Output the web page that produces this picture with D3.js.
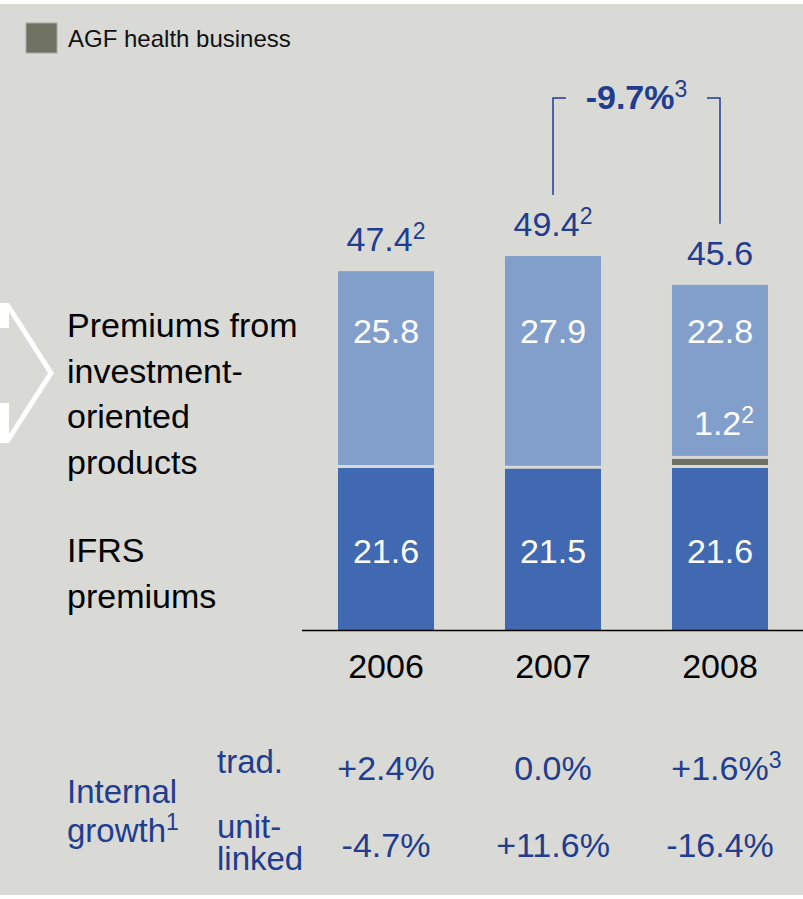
<!DOCTYPE html>
<html>
<head>
<meta charset="utf-8">
<script src="https://cdn.jsdelivr.net/npm/d3@7"></script>
<style>
  html, body { margin: 0; padding: 0; background: #ffffff; }
  svg { display: block; font-family: "Liberation Sans", Arial, sans-serif; }
</style>
</head>
<body>
<div id="chart"></div>
<script>
const years = ['2006', '2007', '2008'];
const ifrsPremiums = [21.6, 21.5, 21.6];
const agfHealth = [0, 0, 1.2];
const investmentPremiums = [25.8, 27.9, 22.8];
const totalNotes = ['2', '2', ''];
const agfNotes = ['', '', '2'];
const tradGrowth = ['+2.4%', '0.0%', '+1.6%'];
const tradNotes = ['', '', '3'];
const unitLinkedGrowth = ['-4.7%', '+11.6%', '-16.4%'];
const changeLabel = '-9.7%';
const changeNote = '3';

const width = 803;
const height = 899;
const baseline = 630;

const bg = '#d9d9d5';
const darkBlue = '#4169b1';
const lightBlue = '#829ecb';
const agfColor = '#6f7262';
const textBlue = '#203d8f';

const rows = years.map((y, i) => ({
    year: y,
    ifrs: ifrsPremiums[i],
    agf: agfHealth[i],
    investment: investmentPremiums[i],
    total: ifrsPremiums[i] + agfHealth[i] + investmentPremiums[i]
}));

const x = d3.scaleBand()
    .domain(years)
    .range([302.5, 803.5])
    .paddingInner(0.425)
    .paddingOuter(0.2125);

const y = d3.scaleLinear()
    .domain([0, 50])
    .range([baseline, baseline - 378.5]);

const svg = d3.select('#chart')
    .append('svg')
    .attr('width', width)
    .attr('height', height);

// background
svg.append('rect')
    .attr('x', 0).attr('y', 4)
    .attr('width', width).attr('height', height - 8)
    .attr('fill', bg);

// white arrow outline on the left
svg.append('polygon')
    .attr('points', '0,303 9,303 54,373 9,443 0,443')
    .attr('fill', '#ffffff');
svg.append('polygon')
    .attr('points', '0,328 9,328 9,312 48,373 9,434 9,403 0,403')
    .attr('fill', bg);

// legend
svg.append('rect')
    .attr('x', 26).attr('y', 23)
    .attr('width', 31).attr('height', 30)
    .attr('fill', agfColor)
    .attr('stroke', '#a9aa9e')
    .attr('stroke-width', 1);
svg.append('text')
    .attr('x', 68).attr('y', 47)
    .attr('font-size', 24)
    .attr('fill', '#111')
    .text('AGF health business');

// stacked bars
const keys = ['ifrs', 'agf', 'investment'];
const colors = { ifrs: darkBlue, agf: agfColor, investment: lightBlue };
const stacked = d3.stack().keys(keys)(rows);

stacked.forEach((layer, li) => {
    svg.append('g')
        .selectAll('rect')
        .data(layer.filter(d => d[1] - d[0] > 0))
        .join('rect')
        .attr('x', d => x(d.data.year))
        .attr('width', x.bandwidth())
        .attr('y', d => y(d[1]) + (li === keys.length - 1 ? 0 : 1.5))
        .attr('height', d => (y(d[0]) - y(d[1])) - (li === 0 ? 1.5 : 3) + (li === keys.length - 1 ? 1.5 : 0))
        .attr('fill', colors[layer.key]);
});

// axis line
svg.append('line')
    .attr('x1', 302).attr('x2', 803)
    .attr('y1', baseline + 0.5).attr('y2', baseline + 0.5)
    .attr('stroke', '#000')
    .attr('stroke-width', 1.5);

// year labels
svg.append('g')
    .selectAll('text')
    .data(years)
    .join('text')
    .attr('x', d => x(d) + x.bandwidth() / 2)
    .attr('y', 678)
    .attr('text-anchor', 'middle')
    .attr('font-size', 34)
    .attr('fill', '#000')
    .text(d => d);

// helper: main text with optional superscript
function labelWithNote(sel, main, note, supSize) {
    sel.append('tspan').text(main);
    if (note) {
        sel.append('tspan')
            .attr('dy', -12)
            .attr('font-size', supSize || 23)
            .text(note);
    }
}

// totals above bars
rows.forEach((d, i) => {
    const t = svg.append('text')
        .attr('x', x(d.year) + x.bandwidth() / 2)
        .attr('y', y(d.total) - 20)
        .attr('text-anchor', 'middle')
        .attr('font-size', 34)
        .attr('fill', textBlue);
    labelWithNote(t, d.total.toFixed(1), totalNotes[i]);
});

// values inside bars
svg.append('g')
    .selectAll('text')
    .data(rows)
    .join('text')
    .attr('x', d => x(d.year) + x.bandwidth() / 2)
    .attr('y', 343)
    .attr('text-anchor', 'middle')
    .attr('font-size', 34)
    .attr('fill', '#fff')
    .text(d => d.investment.toFixed(1));

svg.append('g')
    .selectAll('text')
    .data(rows)
    .join('text')
    .attr('x', d => x(d.year) + x.bandwidth() / 2)
    .attr('y', 563)
    .attr('text-anchor', 'middle')
    .attr('font-size', 34)
    .attr('fill', '#fff')
    .text(d => d.ifrs.toFixed(1));

rows.forEach((d, i) => {
    if (d.agf > 0) {
        const t = svg.append('text')
            .attr('x', x(d.year) + x.bandwidth() / 2 + 4)
            .attr('y', y(d.ifrs + d.agf) - 22)
            .attr('text-anchor', 'middle')
            .attr('font-size', 34)
            .attr('fill', '#fff');
        labelWithNote(t, d.agf.toFixed(1), agfNotes[i]);
    }
});

// change bracket between 2007 and 2008
const bx1 = x(years[1]) + x.bandwidth() / 2;
const bx2 = x(years[2]) + x.bandwidth() / 2;
const bTop = 98;
svg.append('path')
    .attr('d', `M${bx1},${y(rows[1].total) - 61}V${bTop}H${bx1 + 13}`)
    .attr('fill', 'none')
    .attr('stroke', textBlue)
    .attr('stroke-width', 1.5);
svg.append('path')
    .attr('d', `M${bx2 - 13},${bTop}H${bx2}V${y(rows[2].total) - 61}`)
    .attr('fill', 'none')
    .attr('stroke', textBlue)
    .attr('stroke-width', 1.5);
const ct = svg.append('text')
    .attr('x', (bx1 + bx2) / 2)
    .attr('y', 109)
    .attr('text-anchor', 'middle')
    .attr('font-size', 34)
    .attr('fill', textBlue);
ct.append('tspan').attr('font-weight', 'bold').text(changeLabel);
ct.append('tspan').attr('dy', -12).attr('font-size', 23).text(changeNote);

// left category labels
const leftLabels = [
    { text: 'Premiums from', y: 337 },
    { text: 'investment-', y: 382.5 },
    { text: 'oriented', y: 428 },
    { text: 'products', y: 473.5 },
    { text: 'IFRS', y: 562 },
    { text: 'premiums', y: 608 }
];
svg.append('g')
    .selectAll('text')
    .data(leftLabels)
    .join('text')
    .attr('x', 67)
    .attr('y', d => d.y)
    .attr('font-size', 34)
    .attr('fill', '#000')
    .text(d => d.text);

// internal growth block
svg.append('text')
    .attr('x', 67).attr('y', 803)
    .attr('font-size', 33)
    .attr('fill', textBlue)
    .text('Internal');
const gt = svg.append('text')
    .attr('x', 67).attr('y', 842)
    .attr('font-size', 33)
    .attr('fill', textBlue);
gt.append('tspan').text('growth');
gt.append('tspan').attr('dy', -12).attr('font-size', 23).text('1');

svg.append('text')
    .attr('x', 217).attr('y', 773)
    .attr('font-size', 33)
    .attr('fill', textBlue)
    .text('trad.');
svg.append('text')
    .attr('x', 217).attr('y', 838)
    .attr('font-size', 33)
    .attr('fill', textBlue)
    .text('unit-');
svg.append('text')
    .attr('x', 217).attr('y', 870)
    .attr('font-size', 33)
    .attr('fill', textBlue)
    .text('linked');

years.forEach((yr, i) => {
    const cx = x(yr) + x.bandwidth() / 2;
    svg.append('text')
        .attr('x', cx)
        .attr('y', 780)
        .attr('text-anchor', 'middle')
        .attr('font-size', 34)
        .attr('fill', textBlue)
        .text(tradGrowth[i]);
    if (tradNotes[i]) {
        const w = 34 * 2.863;
        svg.append('text')
            .attr('x', cx + w / 2)
            .attr('y', 768)
            .attr('font-size', 23)
            .attr('fill', textBlue)
            .text(tradNotes[i]);
    }
    svg.append('text')
        .attr('x', cx)
        .attr('y', 857)
        .attr('text-anchor', 'middle')
        .attr('font-size', 34)
        .attr('fill', textBlue)
        .text(unitLinkedGrowth[i]);
});
</script>
</body>
</html>
